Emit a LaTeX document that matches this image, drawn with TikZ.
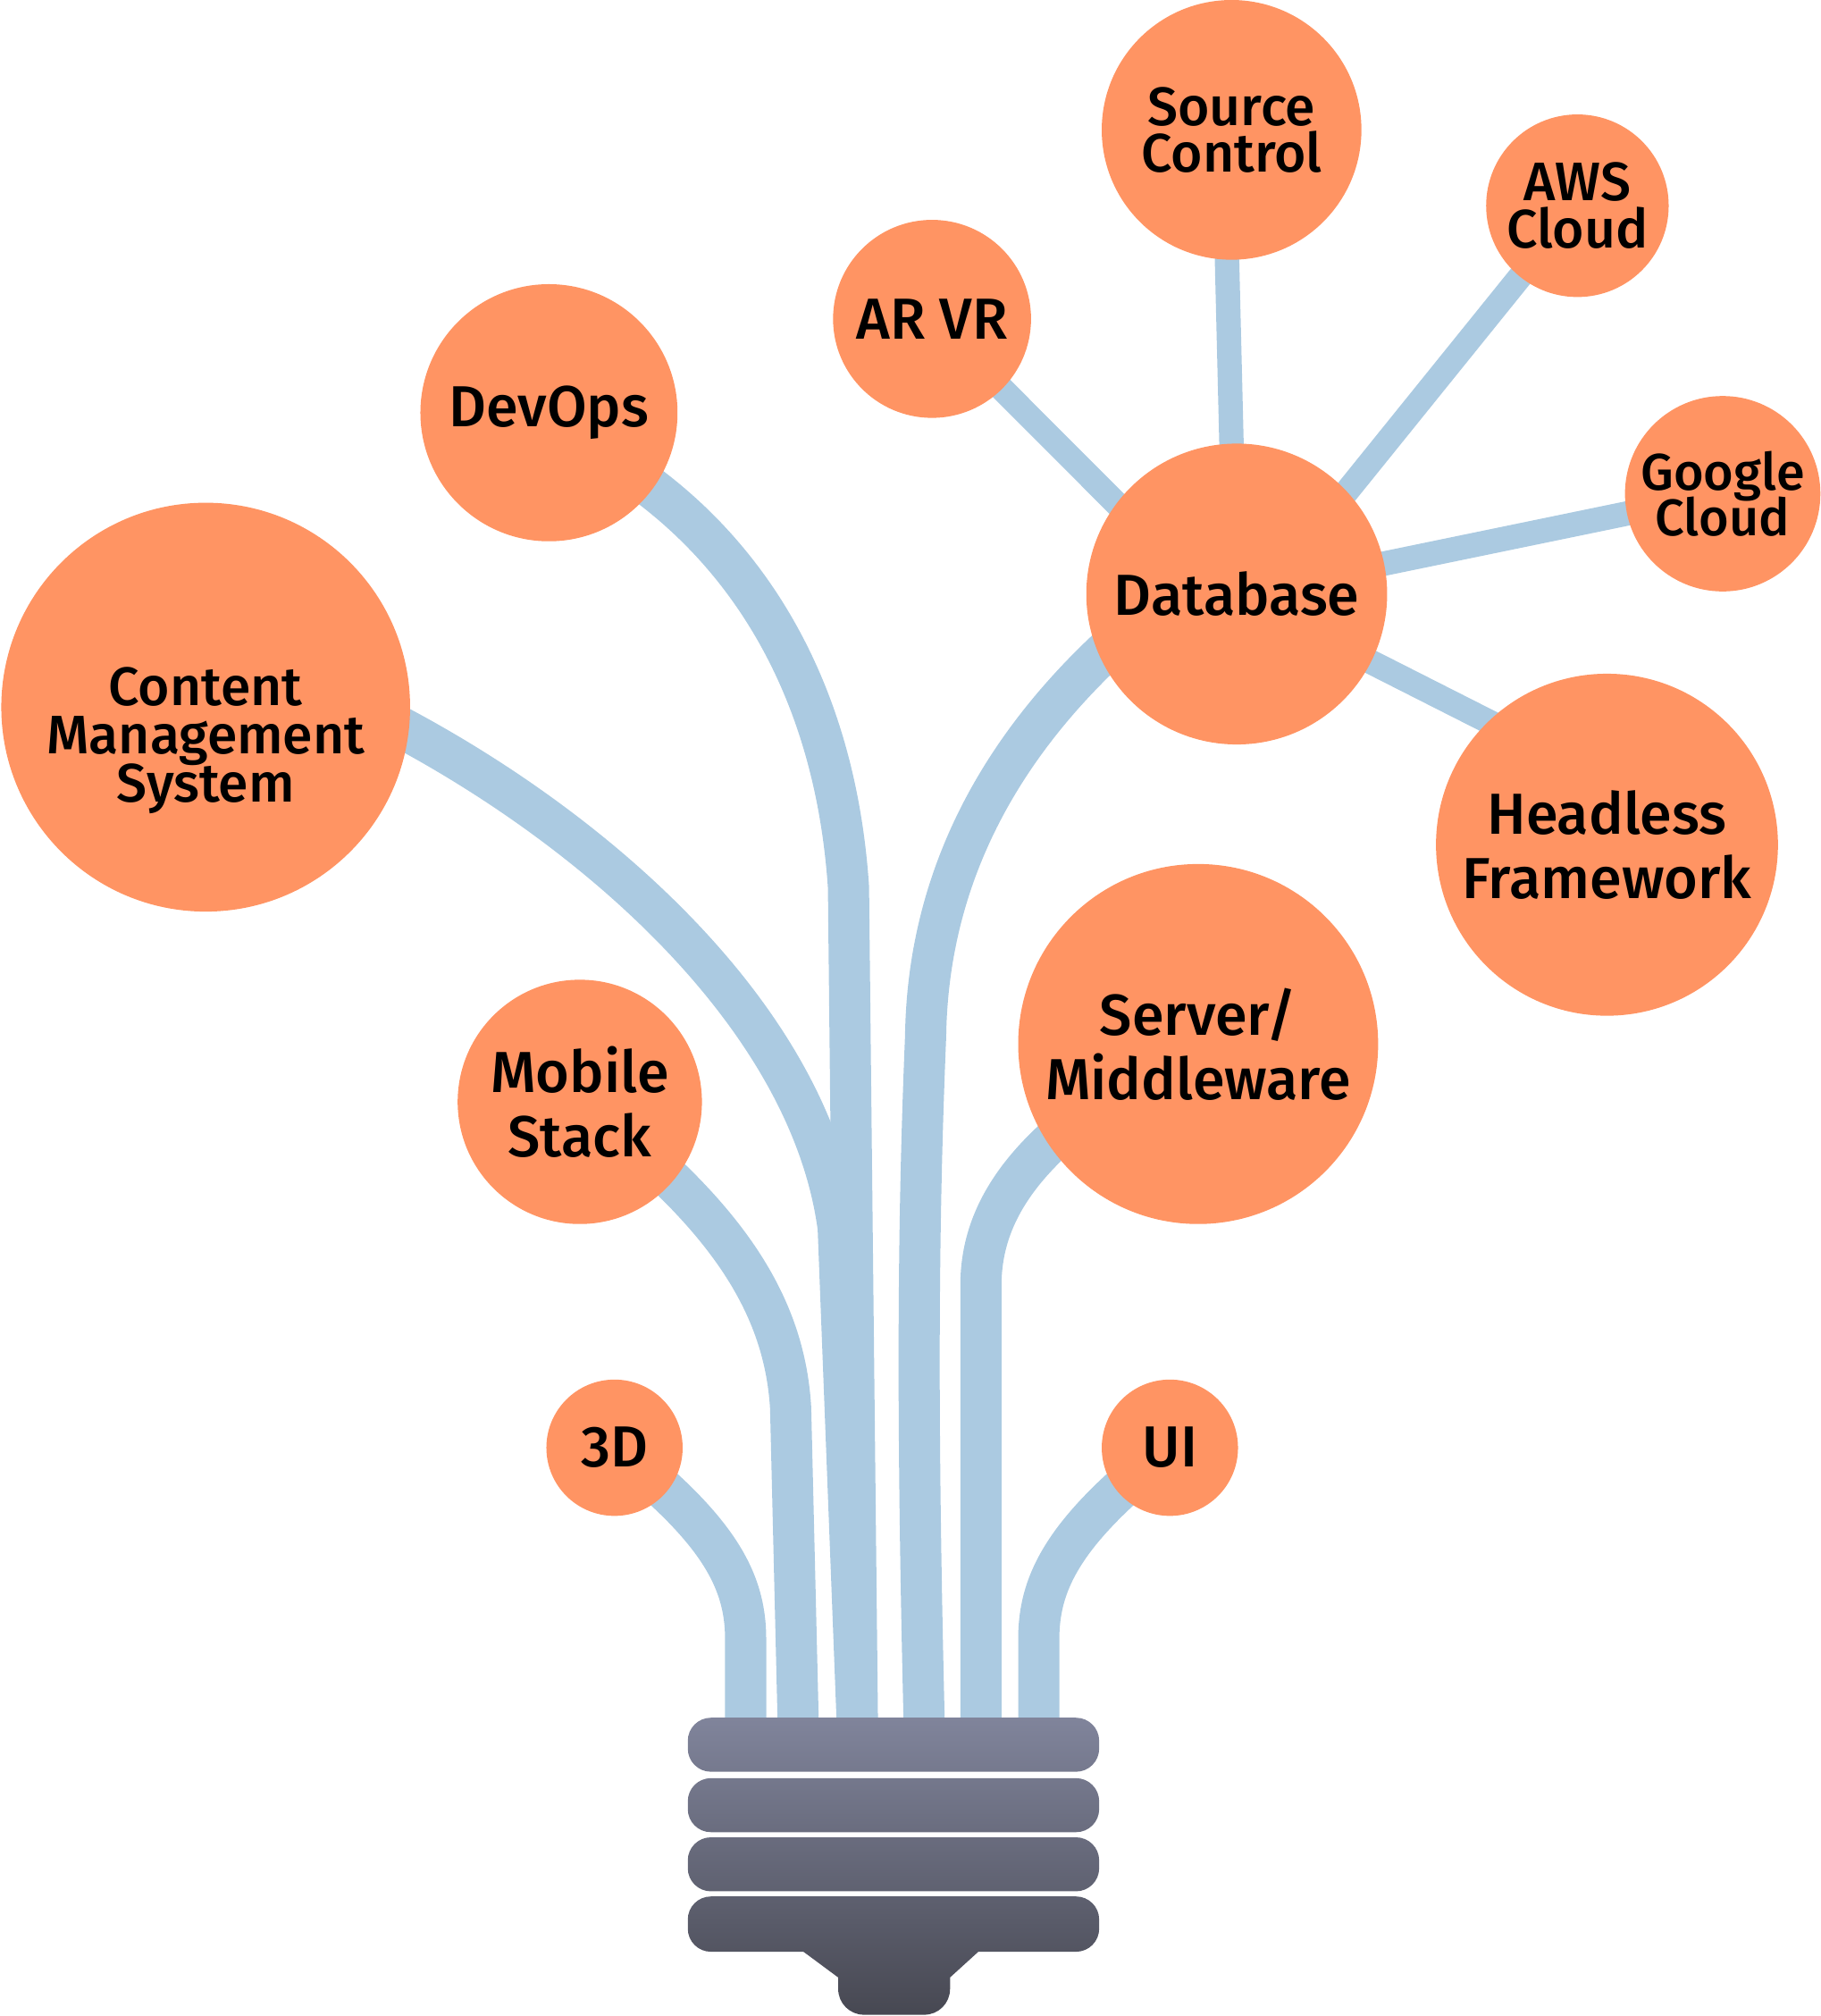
\documentclass[tikz,border=0pt]{standalone}
\usepackage{fontspec}
\setmainfont{Fira Sans}[UprightFont=* Medium]
\usetikzlibrary{positioning,calc,backgrounds}
\definecolor{bubble}{HTML}{FF9463}
\definecolor{wirecol}{HTML}{ABCAE1}
\definecolor{capTop}{HTML}{80849B}
\definecolor{capBot}{HTML}{474852}
\lineskiplimit=-10pt
\tikzset{
    topic/.style={circle, fill=bubble, inner sep=0pt, align=center, font=\fontsize{12.8}{14.2}\selectfont},
    tight/.style={font=\fontsize{12}{10.4}\selectfont},
    wire/.style={draw=wirecol, line width=3.2mm},
    spoke/.style={draw=wirecol, line width=1.9mm, shorten <=-2mm, shorten >=-2mm},
    ring/.style={rounded corners=1.8mm}
}

\begin{document}
\begin{tikzpicture}[x=0.1mm, y=-0.1mm]
    \useasboundingbox (0,0) rectangle (1416,1568);

    % topics
    \node[topic, tight, minimum size=20.2mm] (src) at (958,101) {Source\\Control};
    \node[topic, tight, minimum size=14.2mm] (aws) at (1227,160) {AWS\\Cloud};
    \node[topic, minimum size=15.4mm] (arvr) at (725,248) {AR VR};
    \node[topic, minimum size=20mm] (dev) at (427,321) {DevOps};
    \node[topic, minimum size=15.2mm, font=\fontsize{11.4}{10.2}\selectfont] (goog) at (1340,384) {Google\\Cloud};
    \node[topic, minimum size=23.4mm] (db) at (962,462) {Database};
    \node[topic, minimum size=31.8mm,
        label={[name=cmstext, align=center, font=\fontsize{12}{10.7}\selectfont, yshift=-2.6mm]center:Content\\Management\\System}] (cms) at (160,550) {};
    \node[topic, minimum size=26.6mm] (hf) at (1250,657) {Headless\\Framework};
    \node[topic, minimum size=28mm] (srv) at (932,812) {Server/\\Middleware};
    \node[topic, minimum size=19mm] (mob) at (451,857) {Mobile\\Stack};
    \node[topic, minimum size=10.6mm] (d3) at (478,1126) {3D};
    \node[topic, minimum size=10.6mm] (ui) at (910,1126) {UI};

    % wire ends under the cap
    \coordinate (w1) at (580,1345);
    \coordinate (w2) at (621,1345);
    \coordinate (w3) at (667,1345);
    \coordinate (w4) at (719,1345);
    \coordinate (w5) at (763,1345);
    \coordinate (w6) at (808,1345);

    \begin{scope}[on background layer]
        \draw[spoke] (src.268) -- (db.92);
        \draw[spoke] (aws.center) -- (db.43);
        \draw[spoke] (goog.center) -- (db.center);
        \draw[spoke] (db.center) -- (hf.134);
        \draw[spoke] (arvr.center) -- (db.143);

        \draw[wire] (d3.center) .. controls (560,1190) and (580,1230) .. (580,1275) -- (w1);
        \draw[wire] (mob.center) .. controls (560,940) and (610,1010) .. (615,1095) -- (w2);
        \draw[wire] (cms.center) -- (291,555) .. controls (460,640) and (630,790) .. (652,955) -- (w3);
        \draw[wire] (dev.center) -- (485,364) .. controls (585,430) and (650,540) .. (660,690) -- (w3);
        \draw[wire] (db.center) -- (878,490) .. controls (800,558) and (722,660) .. (720,806) .. controls (714,950) and (713,1100) .. (w4);
        \draw[wire] (srv.center) .. controls (800,880) and (763,940) .. (763,1000) -- (w5);
        \draw[wire] (ui.center) .. controls (828,1190) and (808,1230) .. (808,1275) -- (w6);
    \end{scope}

    % lamp cap
    \shade[top color=capBot!71!capTop, bottom color=capBot] (625,1500) -- (761,1500) -- (761,1518) -- (739,1538) -- (739,1547)
        arc[start angle=0, end angle=90, radius=20] -- (672,1567)
        arc[start angle=90, end angle=180, radius=20] -- (652,1538) -- (625,1518) -- cycle;
    \shade[top color=capTop, bottom color=capBot!18!capTop, ring] (535,1336) rectangle (855,1378);
    \shade[top color=capBot!20!capTop, bottom color=capBot!39!capTop, ring] (535,1383) rectangle (855,1425);
    \shade[top color=capBot!40!capTop, bottom color=capBot!58!capTop, ring] (535,1429) rectangle (855,1471);
    \shade[top color=capBot!60!capTop, bottom color=capBot!79!capTop, ring] (535,1475) rectangle (855,1518);
\end{tikzpicture}
\end{document}
